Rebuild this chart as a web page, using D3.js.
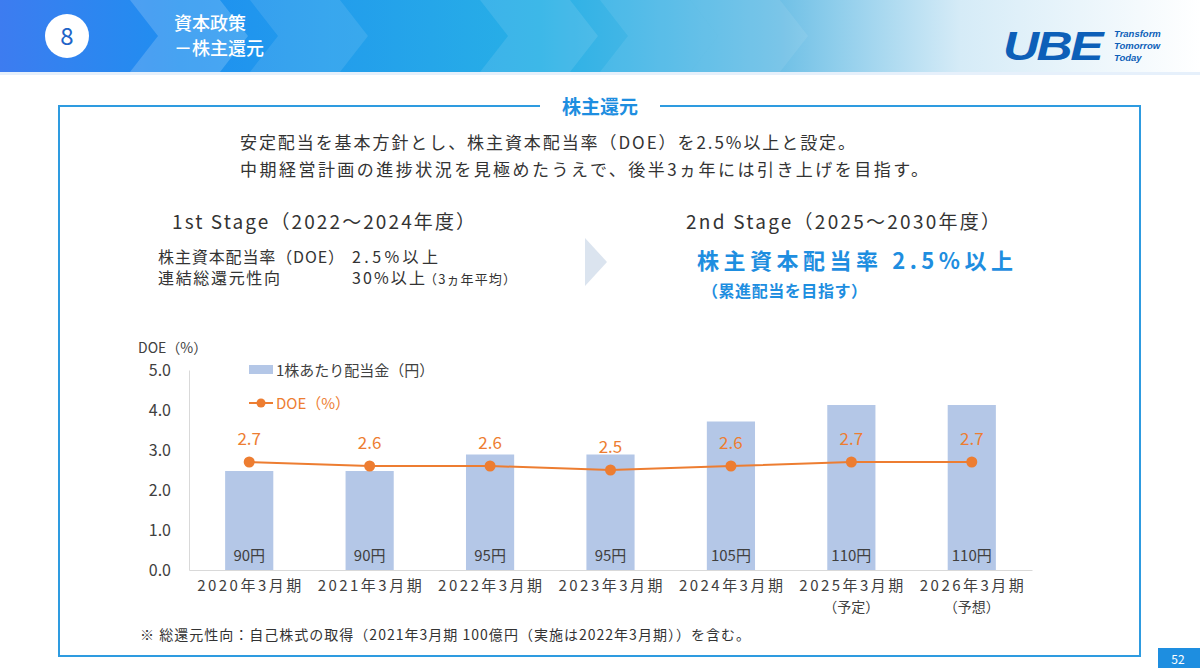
<!DOCTYPE html>
<html><head><meta charset="utf-8">
<script src="https://cdn.jsdelivr.net/npm/d3@7"></script>
<style>
body{margin:0;background:#fff;font-family:"Noto Sans CJK JP","Noto Sans",sans-serif;}
</style></head>
<body><div id="vis"></div>
<script>
const categories = ['2020年3月期','2021年3月期','2022年3月期','2023年3月期','2024年3月期','2025年3月期','2026年3月期']
const subLabels = ['','','','','','（予定）','（予想）']
const dividends = [90, 90, 95, 95, 105, 110, 110]
const doe = [2.7, 2.6, 2.6, 2.5, 2.6, 2.7, 2.7]
const yTicks = [0, 1, 2, 3, 4, 5]

const svg = d3.select('#vis').append('svg').attr('width', 1200).attr('height', 668)
const FONT = '"Noto Sans CJK JP","Noto Sans",sans-serif'

// header band
const defs = svg.append('defs')
const g1 = defs.append('linearGradient').attr('id', 'hdr')
g1.append('stop').attr('offset', '0%').attr('stop-color', '#3d7cf0')
g1.append('stop').attr('offset', '15%').attr('stop-color', '#1e8ff0')
g1.append('stop').attr('offset', '45%').attr('stop-color', '#28b0e6')
g1.append('stop').attr('offset', '65%').attr('stop-color', '#6fc0e6')
g1.append('stop').attr('offset', '80%').attr('stop-color', '#d5ebf7')
g1.append('stop').attr('offset', '100%').attr('stop-color', '#ffffff')
svg.append('rect').attr('width', 1200).attr('height', 72).attr('fill', 'url(#hdr)')
// chevrons
;[[130, 0.18], [250, 0.1], [480, 0.1], [600, 0.08], [690, 0.08]].forEach(([x, o]) => {
  svg.append('path').attr('d', `M${x},0 L${x + 28},36 L${x},72 L${x + 90},72 L${x + 118},36 L${x + 90},0Z`)
    .attr('fill', '#fff').attr('opacity', o)
})
svg.append('rect').attr('y', 72).attr('width', 1200).attr('height', 3).attr('fill', '#e6f0fb')
svg.append('circle').attr('cx', 67).attr('cy', 36).attr('r', 22).attr('fill', '#fff')
svg.append('text').attr('x', 67).attr('y', 45).attr('text-anchor', 'middle').attr('font-size', 24)
  .attr('fill', '#1e64c8').attr('font-family', FONT).text('8')
svg.append('text').attr('x', 174).attr('y', 30).attr('font-size', 18).attr('font-weight', 500).attr('fill', '#fff').attr('font-family', FONT).text('資本政策')
svg.append('text').attr('x', 174).attr('y', 55).attr('font-size', 18).attr('font-weight', 500).attr('fill', '#fff').attr('font-family', FONT).text('－株主還元')
svg.append('text').attr('transform', 'translate(1003,60) scale(1.25,1)').attr('font-size', 40).attr('font-weight', 900).attr('font-style', 'italic')
  .attr('fill', '#0d5fb8').attr('font-family', 'Liberation Sans').attr('letter-spacing', -2).text('UBE')
;['Transform', 'Tomorrow', 'Today'].forEach((t, i) => {
  svg.append('text').attr('x', 1114).attr('y', 37 + i * 12).attr('font-size', 9.5).attr('font-style', 'italic').attr('font-weight', 700)
    .attr('fill', '#0d5fb8').attr('font-family', 'Liberation Sans').text(t)
})

// frame
svg.append('rect').attr('x', 59).attr('y', 106).attr('width', 1081).attr('height', 550)
  .attr('fill', 'none').attr('stroke', '#2e9be0').attr('stroke-width', 2)
svg.append('rect').attr('x', 540).attr('y', 95).attr('width', 120).attr('height', 24).attr('fill', '#fff')
svg.append('text').attr('x', 600).attr('y', 114).attr('text-anchor', 'middle').attr('font-size', 19).attr('font-weight', 700)
  .attr('fill', '#1e8ee0').attr('font-family', FONT).text('株主還元')
svg.append('rect').attr('x', 1158).attr('y', 648).attr('width', 42).attr('height', 20).attr('fill', '#1e8ee0')
svg.append('text').attr('x', 1178).attr('y', 664).attr('text-anchor', 'middle').attr('font-size', 12).attr('fill', '#fff').attr('font-family', FONT).text('52')

const txt = (x, y, s, t, o = {}) => {
  const e = svg.append('text').attr('x', x).attr('y', y).attr('font-size', s)
    .attr('fill', o.fill || '#333').attr('font-weight', o.w || 400).attr('text-anchor', o.a || 'start')
    .attr('font-family', FONT).text(t)
  if (o.len) e.attr('textLength', o.len).attr('lengthAdjust', 'spacing')
  return e
}
txt(240, 149, 17, '安定配当を基本方針とし、株主資本配当率（DOE）を2.5%以上と設定。', { len: 615 })
txt(240, 176, 17, '中期経営計画の進捗状況を見極めたうえで、後半3ヵ年には引き上げを目指す。', { len: 688 })
txt(172, 229, 19, '1st Stage（2022～2024年度）', { len: 303 })
txt(158, 263, 16, '株主資本配当率（DOE）', { len: 186 })
txt(352, 263, 16, '2.5%以上', { len: 86 })
txt(158, 284, 16, '連結総還元性向', { len: 122 })
txt(352, 284, 16, '30%以上', { len: 73 })
txt(424, 284, 13, '（3ヵ年平均）', { len: 92 })
svg.append('path').attr('d', 'M585,238 L607,262 L585,286 Z').attr('fill', '#dbe4ef')
txt(686, 229, 19, '2nd Stage（2025～2030年度）', { len: 314 })
txt(697, 269, 22, '株主資本配当率  2.5%以上', { fill: '#1e8ee0', w: 700, len: 316 })
txt(702, 297, 16, '（累進配当を目指す）', { fill: '#1e8ee0', w: 700, len: 165 })
txt(140, 640, 14, '※ 総還元性向：自己株式の取得（2021年3月期 100億円（実施は2022年3月期））を含む。', { len: 610 })

// chart
const x = d3.scaleBand().domain(categories).range([189, 1032]).paddingInner(0.6).paddingOuter(0.3)
const y = d3.scaleLinear().domain([0, 5]).range([570, 370])
const yBar = d3.scaleLinear().domain([60, 60 + 200 / 3.3]).range([570, 370])

const ax = svg.append('g').attr('transform', 'translate(189,0)')
  .call(d3.axisLeft(y).tickValues(yTicks).tickFormat(d3.format('.1f')).tickSize(0).tickPadding(18))
ax.select('.domain').attr('stroke', '#d9d9d9')
ax.selectAll('text').attr('font-size', 16).attr('fill', '#404040').attr('font-family', FONT)
txt(138, 353, 14, 'DOE（%）', { fill: '#404040' })

const xa = svg.append('g').attr('transform', 'translate(0,570)')
  .call(d3.axisBottom(x).tickSize(0).tickPadding(10))
xa.select('.domain').attr('stroke', '#d9d9d9')
xa.selectAll('text').attr('font-size', 15).attr('fill', '#404040').attr('font-family', FONT)
  .attr('textLength', 104).attr('lengthAdjust', 'spacing')
categories.forEach((c, i) => {
  if (subLabels[i]) txt(x(c) + x.bandwidth() / 2, 612, 14, subLabels[i], { fill: '#404040', a: 'middle' })
})

svg.selectAll('.bar').data(dividends).join('rect')
  .attr('x', (d, i) => x(categories[i])).attr('width', x.bandwidth())
  .attr('y', d => yBar(d)).attr('height', d => 570 - yBar(d)).attr('fill', '#b4c7e7')
svg.selectAll('.bl').data(dividends).join('text')
  .attr('x', (d, i) => x(categories[i]) + x.bandwidth() / 2).attr('y', 561).attr('text-anchor', 'middle')
  .attr('font-size', 15).attr('fill', '#404040').attr('font-family', FONT).text(d => d + '円')

const cx = i => x(categories[i]) + x.bandwidth() / 2
svg.append('path').datum(doe)
  .attr('d', d3.line().x((d, i) => cx(i)).y(d => y(d)))
  .attr('fill', 'none').attr('stroke', '#ed7d31').attr('stroke-width', 2)
svg.selectAll('.pt').data(doe).join('circle')
  .attr('cx', (d, i) => cx(i)).attr('cy', d => y(d)).attr('r', 5.5).attr('fill', '#ed7d31')
svg.selectAll('.pl').data(doe).join('text')
  .attr('x', (d, i) => cx(i)).attr('y', d => y(d) - 17).attr('text-anchor', 'middle')
  .attr('font-size', 17).attr('fill', '#ed7d31').attr('font-family', FONT).text(d => d.toFixed(1))

// legend
svg.append('rect').attr('x', 249).attr('y', 365).attr('width', 24).attr('height', 9).attr('fill', '#b4c7e7')
txt(276, 376, 15, '1株あたり配当金（円）', { fill: '#404040' })
svg.append('line').attr('x1', 249).attr('x2', 273).attr('y1', 403).attr('y2', 403).attr('stroke', '#ed7d31').attr('stroke-width', 2)
svg.append('circle').attr('cx', 261).attr('cy', 403).attr('r', 4.5).attr('fill', '#ed7d31')
txt(276, 409, 15, 'DOE（%）', { fill: '#ed7d31' })
</script></body></html>
